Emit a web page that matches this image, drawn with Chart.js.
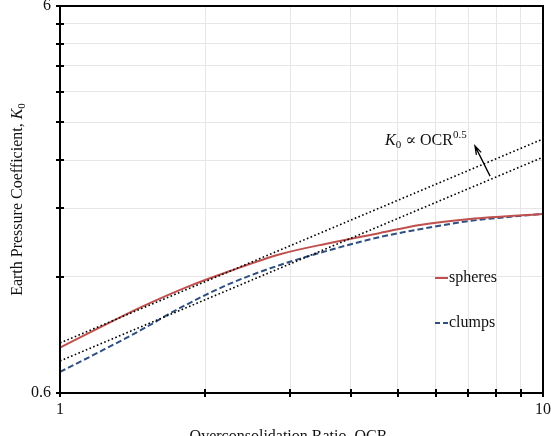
<!DOCTYPE html>
<html>
<head>
<meta charset="utf-8">
<script src="https://cdn.jsdelivr.net/npm/chart.js@4/dist/chart.umd.min.js"></script>
<style>
  html, body { margin: 0; padding: 0; background: #fff; overflow: hidden; }
  #wrap { width: 551px; height: 436px; position: relative; }
</style>
</head>
<body>
<div id="wrap"><canvas id="chart"></canvas></div>
<script>
// data (log-log axes)
const OCR_SPHERES = [1, 1.216, 1.472, 1.841, 2.249, 2.855, 3.623, 4.6, 5.56, 7.06, 10];
const K_SPHERES = [0.786, 0.889, 1.0, 1.13, 1.24, 1.37, 1.465, 1.555, 1.631, 1.69, 1.741];

const OCR_CLUMPS = [1, 1.216, 1.472, 1.772, 2.249, 2.855, 3.623, 4.6, 5.56, 7.06, 10];
const K_CLUMPS = [0.68, 0.77, 0.873, 0.995, 1.15, 1.285, 1.405, 1.518, 1.59, 1.67, 1.741];

// two K0 ~ OCR^0.5 guide lines
const OCR_GUIDE = [1, 10];
const K_GUIDE_UPPER = [0.808, 2.72];
const K_GUIDE_LOWER = [0.726, 2.44];

const X_TICKS = [1, 2, 3, 4, 5, 6, 7, 8, 9, 10];
const X_TICK_LABELS = ["1", "", "", "", "", "", "", "", "", "10"];
const Y_TICKS = [0.6, 1.2, 1.8, 2.4, 3, 3.6, 4.2, 4.8, 5.4, 6];
const Y_TICK_LABELS = ["0.6", "", "", "", "", "", "", "", "", "6"];

const SERIES_NAMES = ["spheres", "clumps"];
const X_TITLE = "Overconsolidation Ratio, OCR";
const Y_TITLE = "Earth Pressure Coefficient, ";

// annotation: arrow (tip, tail) and label anchor, in data units
const ARROW_TIP = [7.23, 2.61];
const ARROW_TAIL = [7.77, 2.18];
const NOTE_ANCHOR = [4.71, 2.62];

const RED = "#C0504D";
const BLUE = "#2F4F80";
const SERIF = "'Liberation Serif', 'DejaVu Serif', serif";

function pts(xs, ys) {
  return xs.map((x, i) => ({ x: x, y: ys[i] }));
}

const decor = {
  id: "decor",
  afterDraw(chart) {
    const ctx = chart.ctx;
    const a = chart.chartArea;
    const xs = chart.scales.x;
    const ys = chart.scales.y;
    ctx.save();

    // frame
    ctx.strokeStyle = "#000";
    ctx.lineWidth = 2;
    ctx.strokeRect(a.left, a.top, a.right - a.left, a.bottom - a.top);

    // tick marks crossing the axes
    ctx.beginPath();
    Y_TICKS.forEach((v) => {
      const py = Math.round(ys.getPixelForValue(v));
      ctx.moveTo(a.left - 4, py);
      ctx.lineTo(a.left + 4, py);
    });
    X_TICKS.forEach((v) => {
      const px = Math.round(xs.getPixelForValue(v));
      ctx.moveTo(px, a.bottom - 4);
      ctx.lineTo(px, a.bottom + 4);
    });
    ctx.stroke();

    // legend inside plot
    const lx = a.left + 375;
    const entries = [
      { name: SERIES_NAMES[0], color: RED, dash: [], y: a.top + 272 },
      { name: SERIES_NAMES[1], color: BLUE, dash: [5, 3], y: a.top + 317 },
    ];
    ctx.font = "16px " + SERIF;
    ctx.textBaseline = "alphabetic";
    entries.forEach((e) => {
      ctx.beginPath();
      ctx.setLineDash(e.dash);
      ctx.strokeStyle = e.color;
      ctx.lineWidth = 2;
      ctx.moveTo(lx, e.y);
      ctx.lineTo(lx + 13, e.y);
      ctx.stroke();
      ctx.setLineDash([]);
      ctx.fillStyle = "#111";
      ctx.fillText(e.name, lx + 14, e.y + 4);
    });

    // annotation arrow
    const tx = xs.getPixelForValue(ARROW_TIP[0]);
    const ty = ys.getPixelForValue(ARROW_TIP[1]);
    const bx = xs.getPixelForValue(ARROW_TAIL[0]);
    const by = ys.getPixelForValue(ARROW_TAIL[1]);
    const ang = Math.atan2(ty - by, tx - bx);
    ctx.strokeStyle = "#000";
    ctx.lineWidth = 1.3;
    ctx.beginPath();
    ctx.moveTo(bx, by);
    ctx.lineTo(tx, ty);
    ctx.moveTo(tx - 9 * Math.cos(ang - 0.3), ty - 9 * Math.sin(ang - 0.3));
    ctx.lineTo(tx, ty);
    ctx.lineTo(tx - 9 * Math.cos(ang + 0.3), ty - 9 * Math.sin(ang + 0.3));
    ctx.stroke();

    // annotation label: K0 ∝ OCR^0.5
    let nx = xs.getPixelForValue(NOTE_ANCHOR[0]);
    const ny = ys.getPixelForValue(NOTE_ANCHOR[1]);
    ctx.fillStyle = "#111";
    ctx.font = "italic 16px " + SERIF;
    ctx.fillText("K", nx, ny);
    nx += ctx.measureText("K").width;
    ctx.font = "11px " + SERIF;
    ctx.fillText("0", nx, ny + 3);
    nx += ctx.measureText("0").width + 4;
    ctx.font = "16px " + SERIF;
    ctx.fillText("\u221D OCR", nx, ny);
    nx += ctx.measureText("\u221D OCR").width;
    ctx.font = "11px " + SERIF;
    ctx.fillText("0.5", nx, ny - 7);

    // x title (cut by the bottom edge, as in the reference)
    ctx.font = "16px " + SERIF;
    ctx.textAlign = "center";
    ctx.fillText(X_TITLE, (a.left + a.right) / 2 - 13, a.bottom + 48);

    // y title, rotated, with italic K and subscript 0
    ctx.save();
    ctx.translate(22, (a.top + a.bottom) / 2);
    ctx.rotate(-Math.PI / 2);
    ctx.textAlign = "left";
    ctx.font = "16px " + SERIF;
    const w1 = ctx.measureText(Y_TITLE).width;
    ctx.font = "italic 16px " + SERIF;
    const w2 = ctx.measureText("K").width;
    ctx.font = "11px " + SERIF;
    const w3 = ctx.measureText("0").width;
    let sx = -(w1 + w2 + w3) / 2;
    ctx.font = "16px " + SERIF;
    ctx.fillText(Y_TITLE, sx, 0);
    sx += w1;
    ctx.font = "italic 16px " + SERIF;
    ctx.fillText("K", sx, 0);
    sx += w2;
    ctx.font = "11px " + SERIF;
    ctx.fillText("0", sx, 3);
    ctx.restore();

    ctx.restore();
  },
};

new Chart(document.getElementById("chart"), {
  type: "scatter",
  data: {
    datasets: [
      {
        label: "guide upper",
        data: pts(OCR_GUIDE, K_GUIDE_UPPER),
        showLine: true,
        borderColor: "#000",
        borderWidth: 1.6,
        borderDash: [1.6, 2.4],
        pointRadius: 0,
      },
      {
        label: "guide lower",
        data: pts(OCR_GUIDE, K_GUIDE_LOWER),
        showLine: true,
        borderColor: "#000",
        borderWidth: 1.6,
        borderDash: [1.6, 2.4],
        pointRadius: 0,
      },
      {
        label: SERIES_NAMES[0],
        data: pts(OCR_SPHERES, K_SPHERES),
        showLine: true,
        borderColor: RED,
        borderWidth: 2,
        pointRadius: 0,
        cubicInterpolationMode: "monotone",
      },
      {
        label: SERIES_NAMES[1],
        data: pts(OCR_CLUMPS, K_CLUMPS),
        showLine: true,
        borderColor: BLUE,
        borderWidth: 2,
        borderDash: [6, 3],
        pointRadius: 0,
        cubicInterpolationMode: "monotone",
      },
    ],
  },
  options: {
    responsive: true,
    maintainAspectRatio: false,
    animation: false,
    devicePixelRatio: 1,
    layout: { padding: { top: 6, right: 8, left: 0, bottom: 0 } },
    plugins: {
      legend: { display: false },
      tooltip: { enabled: false },
    },
    scales: {
      x: {
        type: "logarithmic",
        min: 1,
        max: 10,
        afterBuildTicks: (scale) => {
          scale.ticks = X_TICKS.map((v) => ({ value: v }));
        },
        afterFit: (scale) => {
          scale.height = 43;
          // labels may overflow the edges, as in the reference
          scale.paddingLeft = 0;
          scale.paddingRight = 0;
        },
        ticks: {
          autoSkip: false,
          maxRotation: 0,
          padding: 7,
          color: "#111",
          font: { family: SERIF, size: 16 },
          callback: (value, index) => X_TICK_LABELS[index],
        },
        grid: { color: "#e6e6e6", lineWidth: 1, drawTicks: false },
        border: { display: true, color: "#000", width: 2 },
      },
      y: {
        type: "logarithmic",
        min: 0.6,
        max: 6,
        afterBuildTicks: (scale) => {
          scale.ticks = Y_TICKS.map((v) => ({ value: v }));
        },
        afterFit: (scale) => {
          scale.width = 60;
          scale.paddingTop = 0;
          scale.paddingBottom = 0;
        },
        ticks: {
          autoSkip: false,
          padding: 9,
          color: "#111",
          font: { family: SERIF, size: 16 },
          callback: (value, index) => Y_TICK_LABELS[index],
        },
        grid: { color: "#e6e6e6", lineWidth: 1, drawTicks: false },
        border: { display: true, color: "#000", width: 2 },
      },
    },
  },
  plugins: [decor],
});
</script>
</body>
</html>
